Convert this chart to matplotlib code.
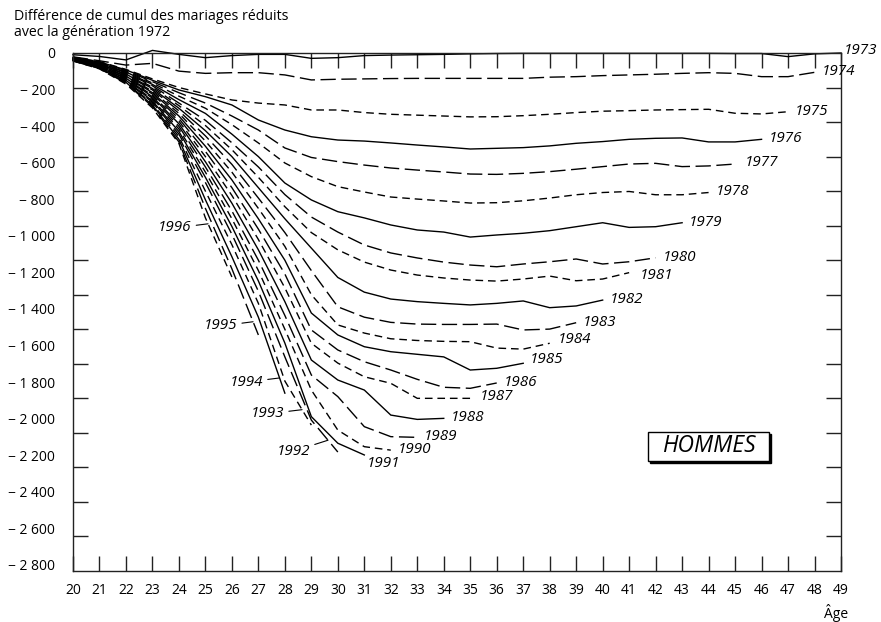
import matplotlib
matplotlib.use('Agg')
import matplotlib.pyplot as plt
import matplotlib.patches as mpatches
from matplotlib.ticker import FuncFormatter
import numpy as np

plt.rcParams['font.family'] = ['Open Sans', 'DejaVu Sans']

# cumulative difference vs generation 1972, by age (starting at age 20)
g1973 = [-10, -20, -40, 15, -8, -27, -15, -8, -8, -31, -27, -15, -12, -10, -8, -5,
         -3, -2, -2, -2, -2, -2, -2, -2, -2, -3, -3, -21, -5, 0]
g1974 = [-22, -45, -70, -60, -105, -118, -114, -114, -127, -156, -152, -150, -148, -147,
         -147, -147, -147, -147, -140, -137, -131, -127, -123, -118, -114, -118, -137, -137, -112]
g1975 = [-25, -50, -95, -150, -200, -237, -272, -290, -301, -330, -330, -345, -355, -360,
         -365, -370, -369, -363, -355, -345, -337, -334, -330, -328, -326, -349, -353, -340]
g1976 = [-25, -52, -98, -158, -214, -253, -301, -388, -446, -485, -504, -510, -521, -533,
         -544, -556, -552, -548, -538, -523, -513, -500, -494, -492, -515, -515, -500]
g1977 = [-27, -54, -102, -166, -230, -290, -365, -446, -550, -605, -629, -649, -666, -678,
         -689, -701, -703, -697, -687, -673, -658, -643, -639, -658, -654, -643]
g1978 = [-28, -56, -106, -174, -250, -320, -415, -521, -637, -716, -774, -805, -834, -846,
         -857, -869, -867, -856, -840, -821, -808, -802, -821, -821, -808]
g1979 = [-30, -58, -110, -182, -270, -350, -470, -600, -753, -851, -919, -955, -996, -1025,
         -1037, -1066, -1054, -1044, -1029, -1006, -983, -1010, -1006, -983]
g1980 = [-30, -60, -114, -190, -290, -390, -520, -660, -820, -950, -1037, -1112, -1158,
         -1187, -1211, -1228, -1238, -1222, -1209, -1193, -1222, -1209, -1186]
g1981 = [-32, -62, -118, -198, -305, -420, -560, -720, -890, -1040, -1140, -1211, -1257,
         -1286, -1303, -1315, -1321, -1309, -1292, -1319, -1309, -1272]
g1982 = [-32, -64, -122, -206, -320, -450, -600, -780, -960, -1130, -1300, -1385, -1425,
         -1440, -1450, -1459, -1450, -1436, -1475, -1465, -1431]
g1983 = [-34, -66, -126, -214, -335, -480, -645, -840, -1040, -1260, -1470, -1530, -1560,
         -1570, -1572, -1572, -1570, -1604, -1599, -1562]
g1984 = [-34, -68, -130, -222, -350, -510, -690, -900, -1120, -1400, -1575, -1622, -1655,
         -1665, -1670, -1672, -1709, -1715, -1681]
g1985 = [-36, -70, -134, -230, -365, -540, -735, -960, -1200, -1506, -1633, -1701, -1730,
         -1745, -1760, -1836, -1826, -1797]
g1986 = [-36, -72, -138, -238, -380, -570, -780, -1020, -1280, -1604, -1720, -1788, -1836,
         -1890, -1936, -1942, -1911]
g1987 = [-38, -74, -142, -246, -395, -600, -825, -1080, -1360, -1681, -1796, -1875, -1913,
         -2000, -2000, -2000]
g1988 = [-38, -76, -146, -254, -410, -630, -870, -1140, -1440, -1778, -1894, -1952, -2097,
         -2122, -2116]
g1989 = [-40, -78, -150, -262, -425, -660, -915, -1200, -1520, -1865, -1990, -2164, -2222, -2226]
g1990 = [-40, -80, -154, -270, -440, -690, -960, -1260, -1600, -1952, -2184, -2280, -2300]
g1991 = [-42, -82, -158, -278, -455, -720, -1005, -1320, -1680, -2106, -2260, -2328]
g1992 = [-42, -84, -162, -286, -470, -750, -1050, -1380, -1760, -2126, -2311]
g1993 = [-44, -86, -166, -294, -485, -800, -1110, -1450, -1900, -2155]
g1994 = [-44, -88, -170, -302, -500, -850, -1180, -1530, -1970]
g1995 = [-46, -90, -175, -310, -515, -900, -1250, -1633]
g1996 = [-46, -92, -180, -318, -524, -955, -1297]

generations = list(range(1973, 1997))
series = [g1973, g1974, g1975, g1976, g1977, g1978, g1979, g1980, g1981, g1982, g1983,
          g1984, g1985, g1986, g1987, g1988, g1989, g1990, g1991, g1992, g1993, g1994,
          g1995, g1996]

age_ticks = list(range(20, 50))
y_label_values = list(range(0, -2801, -200))

# styles cycle: solid, long dash, short dash
styles = ['-', (0, (11, 4)), (0, (5.5, 3.5))]

# label offsets (points) for the right-hand labels
right_offsets = {1973: (2, 2), 1977: (7, 1), 1981: (8, -2), 1984: (6, 3), 1985: (5, 3),
                 1987: (7, 1), 1991: (2, -6)}
# left-hand labels: (age on the curve where the leader ends, text offset in points)
left_labels = {1992: (29.63, (-13, -8)), 1993: (28.65, (-13, -3)),
               1994: (27.8, (-12, -3)), 1995: (26.8, (-11.5, -3)),
               1996: (25.1, (-12, -3))}

fig = plt.figure(figsize=(8.81, 6.22), dpi=100)
ax = fig.add_axes([73 / 881, 51 / 622, 768 / 881, 518 / 622])

for i, (gen, vals) in enumerate(zip(generations, series)):
    ages = np.arange(20, 20 + len(vals))
    ax.plot(ages, vals, color='black', lw=1.0, linestyle=styles[i % 3],
            solid_joinstyle='miter', clip_on=False)
    if gen in left_labels:
        a, off = left_labels[gen]
        ax.annotate(str(gen), xy=(a, np.interp(a, ages, vals)), xytext=off,
                    textcoords='offset points', ha='right', va='center',
                    fontsize=11, style='italic',
                    arrowprops=dict(arrowstyle='-', lw=0.8, color='black',
                                    shrinkA=1.5, shrinkB=0))
    else:
        off = right_offsets.get(gen, (5, 0.5))
        ax.annotate(str(gen), xy=(ages[-1], vals[-1]), xytext=off,
                    textcoords='offset points', ha='left', va='center',
                    fontsize=11, style='italic', annotation_clip=False)

ax.set_xlim(20, 49)
ax.set_ylim(-3000, 0)
ax.set_xticks(age_ticks)
ax.set_xticklabels([str(a) for a in age_ticks])
ax.set_yticks(range(-200, -2801, -200))
ax.tick_params(axis='both', direction='in', length=10.8, width=1.0, color='#222222')
ax.tick_params(axis='x', top=True, labelsize=10, pad=9)
ax.tick_params(axis='y', right=True, labelleft=False)
for s in ax.spines.values():
    s.set_linewidth(1.0)
    s.set_color('#222222')

# the printed y scale labels sit slightly off the tick marks
ratio = 1.059
sec = ax.secondary_yaxis('left', functions=(lambda d: d / ratio, lambda v: v * ratio))
sec.set_yticks(y_label_values)
sec.yaxis.set_major_formatter(FuncFormatter(
    lambda v, p: '0' if v == 0 else '\u2212 ' + f'{int(-v):,}'.replace(',', ' ')))
sec.tick_params(length=0, pad=13, labelsize=10)
sec.spines['left'].set_visible(False)

# HOMMES box with drop shadow
ax.add_patch(mpatches.Rectangle((0.7513, 0.2085), 0.1573, 0.056, transform=ax.transAxes,
                                facecolor='black', edgecolor='black', lw=1.0))
ax.add_patch(mpatches.Rectangle((0.7487, 0.2124), 0.1573, 0.056, transform=ax.transAxes,
                                facecolor='white', edgecolor='black', lw=1.0))
ax.text(0.8274, 0.2404, 'HOMMES', transform=ax.transAxes, ha='center', va='center',
        fontsize=16.5, style='italic')

fig.text(14 / 881, 1 - 9 / 622,
         'Différence de cumul des mariages réduits\navec la génération 1972',
         ha='left', va='top', fontsize=10.2, linespacing=1.05)
fig.text(848 / 881, 1 - 613 / 622, 'Âge', ha='right', va='center', fontsize=10)

fig.savefig('out.png', dpi=100)
